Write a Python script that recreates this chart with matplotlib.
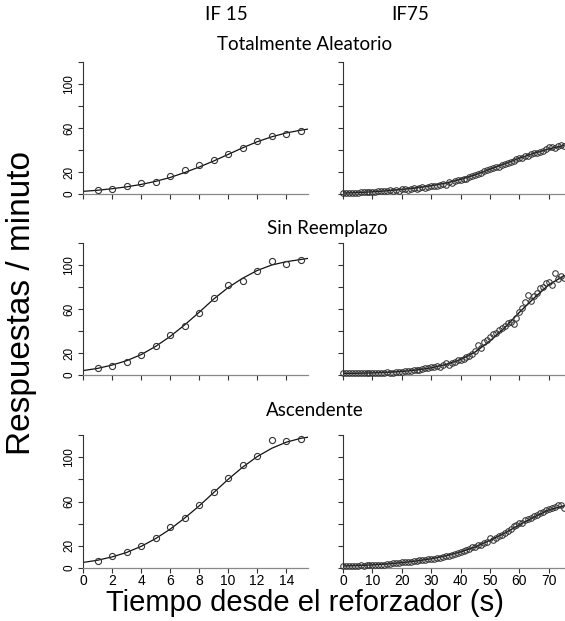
"""Respuestas por minuto vs tiempo desde el reforzador (IF 15 / IF75)"""
import numpy as np
import matplotlib
matplotlib.use("Agg")
import matplotlib.pyplot as plt

# ---- data ----
rows = ["Totalmente Aleatorio", "Sin Reemplazo", "Ascendente"]

# IF 15: one point per second (1..15) plus the fitted curve
if15_x = [1, 2, 3, 4, 5, 6, 7, 8, 9, 10, 11, 12, 13, 14, 15]
if15_pts = [
    [3.6, 4.5, 7.2, 9.6, 11.1, 16.0, 22.0, 26.0, 30.7, 36.0, 42.0, 48.4, 52.3, 54.7, 57.7],
    [6.3, 7.8, 12.0, 17.8, 26.0, 36.0, 45.0, 56.3, 70.0, 81.6, 85.8, 94.9, 103.6, 101.0, 105.0],
    [6.6, 11.1, 14.4, 19.5, 27.0, 37.2, 44.7, 56.8, 68.5, 81.4, 93.1, 101.2, 115.3, 115.0, 116.5],
]
if15_cx = [0, 1, 2, 3, 4, 5, 6, 7, 8, 9, 10, 11, 12, 13, 14, 15, 15.5]
if15_curve = [
    [2.4, 3.4, 4.8, 6.5, 8.7, 11.5, 15.0, 19.5, 24.5, 30.0, 36.0, 42.0, 47.5, 52.0, 55.5, 58.0, 59.0],
    [4.0, 6.0, 9.0, 13.0, 18.5, 26.0, 35.0, 45.5, 57.0, 69.0, 79.5, 88.0, 95.0, 100.0, 103.0, 105.0, 106.0],
    [5.0, 7.0, 10.0, 14.0, 19.5, 26.5, 35.0, 45.0, 56.0, 68.0, 80.0, 91.0, 100.5, 108.0, 113.5, 117.0, 118.0],
]

# IF75: one point per second (0..75)
if75_x = list(range(0, 76))
if75_pts = [
    [0.8, 0.9, 1.0, 1.0, 1.2, 1.3, 1.5, 1.4, 1.8, 2.0,
     2.2, 2.0, 2.6, 2.8, 3.0, 2.7, 3.3, 3.0, 3.6, 2.8,
     4.2, 4.5, 4.0, 5.0, 5.2, 4.8, 5.6, 6.0, 5.5, 6.5,
     7.0, 7.6, 7.2, 8.5, 9.5, 8.0, 10.5, 9.6, 11.5, 12.5,
     13.0, 14.0, 13.5, 15.5, 16.0, 17.5, 18.0, 19.5, 20.5, 22.0,
     23.0, 24.0, 25.0, 24.5, 26.5, 27.0, 28.5, 29.5, 30.0, 31.5,
     32.5, 33.0, 34.5, 35.0, 36.0, 37.5, 37.0, 38.5, 39.0, 40.5,
     42.5, 43.0, 42.0, 43.5, 44.5, 43.5],
    [1.5, 1.6, 1.4, 1.7, 1.5, 1.6, 1.8, 1.5, 1.7, 1.6,
     1.8, 1.6, 1.7, 1.9, 1.8, 2.5, 1.6, 2.0, 2.8, 2.4,
     3.0, 3.5, 3.2, 4.0, 4.5, 5.0, 4.8, 5.5, 6.5, 6.0,
     7.0, 7.5, 8.0, 7.0, 9.5, 10.5, 9.0, 11.0, 12.0, 13.5,
     14.0, 15.0, 16.0, 17.5, 19.0, 22.0, 27.0, 25.0, 30.0, 32.0,
     35.0, 37.0, 38.5, 41.0, 42.5, 45.0, 47.0, 48.5, 46.0, 52.0,
     57.0, 61.0, 66.0, 73.0, 67.0, 72.0, 75.0, 79.0, 80.0, 84.0,
     84.5, 82.0, 93.0, 87.0, 90.0, 88.0],
    [1.8, 1.9, 2.0, 2.0, 2.1, 2.2, 2.3, 2.2, 2.6, 2.4,
     2.8, 2.6, 3.0, 3.1, 3.0, 3.3, 3.6, 4.2, 4.5, 4.8,
     5.0, 5.2, 5.4, 5.8, 6.0, 6.6, 6.8, 7.0, 7.4, 7.8,
     8.2, 8.5, 9.0, 9.4, 9.8, 10.5, 11.0, 12.0, 12.5, 13.5,
     14.5, 15.0, 16.5, 17.0, 18.5, 19.0, 20.5, 21.0, 22.5, 23.5,
     27.5, 25.5, 27.0, 28.5, 30.0, 32.0, 33.5, 35.0, 37.5, 38.5,
     40.5, 41.0, 43.5, 44.0, 45.0, 47.0, 48.0, 49.5, 50.5, 52.0,
     53.0, 54.5, 55.0, 56.5, 57.0, 54.0],
]
if75_cx = [0, 5, 10, 15, 20, 25, 30, 35, 40, 45, 50, 55, 60, 65, 70, 75]
if75_curve = [
    [0.8, 1.3, 2.0, 2.9, 4.2, 5.6, 7.5, 10.0, 13.3, 17.5, 22.5, 27.5, 32.5, 37.0, 41.0, 44.0],
    [1.5, 1.6, 1.9, 2.4, 3.2, 4.5, 6.5, 9.5, 14.0, 21.0, 31.0, 43.0, 57.0, 70.0, 82.0, 90.0],
    [1.8, 2.2, 2.8, 3.6, 4.8, 6.3, 8.3, 11.0, 14.5, 19.0, 25.0, 31.5, 39.0, 46.0, 52.5, 56.0],
]

yticks = [0, 20, 40, 60, 80, 100, 120]
ylabels = ["0", "20", "", "60", "", "100", ""]

W, H = 565, 621
fig = plt.figure(figsize=(W / 100, H / 100), dpi=100)
plt.rcParams["font.family"] = ["Liberation Sans", "DejaVu Sans"]

# axes boxes in pixels: (top-of-120, bottom-of-0) per row, (left, right, xmax) per column
row_px = [(62, 194), (243, 375), (435, 568)]
col_px = [(83, 308, 15.5), (343, 565, 75.5)]

for r in range(3):
    top, bot = row_px[r]
    for c in range(2):
        x0, x1, xmax = col_px[c]
        ax = fig.add_axes([x0 / W, 1 - bot / H, (x1 - x0) / W, (bot - top) / H])
        if c == 0:
            ax.plot(if15_cx, if15_curve[r], color="#111", lw=0.9, zorder=2)
            ax.plot(if15_x, if15_pts[r], "o", mfc="none", mec="#333", ms=4.4, mew=0.8,
                    clip_on=False, zorder=3)
            ax.set_xticks(range(0, 16, 2))
        else:
            ax.plot(if75_cx, if75_curve[r], color="#111", lw=1.0, zorder=2)
            ax.plot(if75_x, if75_pts[r], "o", mfc="none", mec="#333", ms=4.0, mew=0.75,
                    clip_on=False, zorder=3)
            ax.set_xticks(range(0, 80, 10))
        ax.set_xlim(0, xmax)
        ax.set_ylim(0, 120)
        ax.set_yticks(yticks)
        if c == 0:
            ax.set_yticklabels(ylabels, rotation=90, va="center", fontsize=8.5)
        else:
            ax.set_yticklabels([])
        if r == 2:
            ax.tick_params(axis="x", labelsize=10, pad=1)
        else:
            ax.set_xticklabels([])
        for s in ["top", "right"]:
            ax.spines[s].set_visible(False)
        ax.spines["left"].set_color("#333")
        ax.spines["bottom"].set_color("#888")
        ax.spines["left"].set_linewidth(0.8)
        ax.spines["bottom"].set_linewidth(0.9)
        ax.tick_params(axis="y", length=3.5, width=0.8, color="#333", pad=2)
        ax.tick_params(axis="x", length=3.5, width=0.8, color="#333")

# column and row titles
tfont = ["Lato", "DejaVu Sans"]
fig.text(226 / W, 1 - 15 / H, "IF 15", ha="center", va="center", fontsize=13.5, family=tfont)
fig.text(410 / W, 1 - 15 / H, "IF75", ha="center", va="center", fontsize=13.5, family=tfont)
title_pos = [(305, 45), (327, 228), (315, 410)]
for name, (tx, ty) in zip(rows, title_pos):
    fig.text(tx / W, 1 - ty / H, name, ha="center", va="center", fontsize=13.5, family=tfont)

fig.text(22 / W, 1 - 303 / H, "Respuestas / minuto", rotation=90, ha="center", va="center",
         fontsize=24)
fig.text(305 / W, 1 - 603 / H, "Tiempo desde el reforzador (s)", ha="center", va="center",
         fontsize=21)

fig.savefig("out.png", dpi=100)
